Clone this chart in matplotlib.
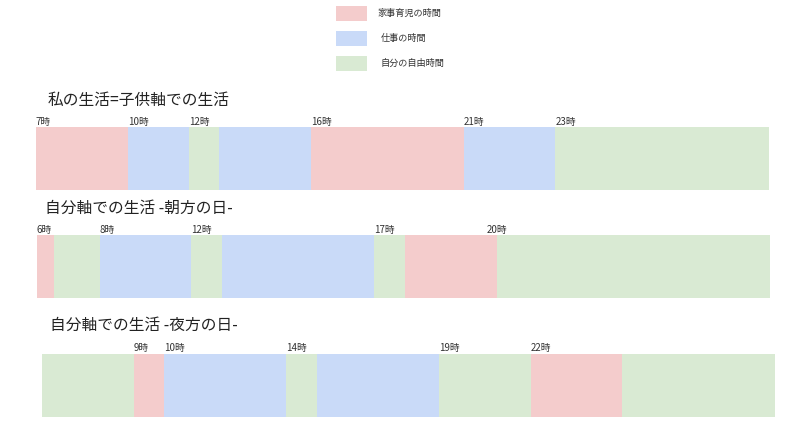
import matplotlib
matplotlib.use("Agg")
from matplotlib import pyplot as plt
from matplotlib.patches import Rectangle
import numpy as np

plt.rcParams['font.family'] = ['Noto Sans CJK JP', 'DejaVu Sans']

# 分類と色
categories = ["家事育児の時間", "仕事の時間", "自分の自由時間"]
colors = {"家事育児の時間": "#f4cccc", "仕事の時間": "#c9daf8", "自分の自由時間": "#d9ead3"}

titles = ["私の生活=子供軸での生活", "自分軸での生活 -朝方の日-", "自分軸での生活 -夜方の日-"]

# 各区間の種類 (0:家事育児 1:仕事 2:自由)
seg_kind_1 = [0, 1, 2, 1, 0, 1, 2]
seg_len_1 = [3, 2, 1, 3, 5, 3, 7]
seg_kind_2 = [0, 2, 1, 2, 1, 2, 0, 2]
seg_len_2 = [0.55, 1.5, 3, 1, 5, 1, 3, 8.95]
seg_kind_3 = [2, 0, 1, 2, 1, 2, 0, 2]
seg_len_3 = [3, 1, 4, 1, 4, 3, 3, 5]

# 時刻ラベル (表示文字, 区切り番号)
labels_1 = [("7時", 0), ("10時", 1), ("12時", 2), ("16時", 4), ("21時", 5), ("23時", 6)]
labels_2 = [("6時", 0), ("8時", 2), ("12時", 3), ("17時", 5), ("20時", 7)]
labels_3 = [("9時", 1), ("10時", 2), ("14時", 3), ("19時", 5), ("22時", 6)]

rows = [
    (seg_kind_1, seg_len_1, labels_1, 0.0),
    (seg_kind_2, seg_len_2, labels_2, 0.03),
    (seg_kind_3, seg_len_3, labels_3, 0.2),
]

W, H = 800, 433
fig = plt.figure(figsize=(8, 4.33), dpi=100)
ax = fig.add_axes([0, 0, 1, 1])
unit = 30.54
x0 = 36
ax.set_xlim(-x0 / unit, (W - x0) / unit)
ax.set_ylim(H, 0)
ax.axis("off")

bar_y = [158.5, 266.5, 385.5]
bar_h = 63
title_pos = [(48, 100), (45, 208), (50, 325)]

for (kinds, lens, labs, start), yc, title, (tx, ty) in zip(rows, bar_y, titles, title_pos):
    lefts = start + np.concatenate([[0], np.cumsum(lens)[:-1]])
    ax.barh(yc, lens, left=lefts, height=bar_h,
            color=[colors[categories[k]] for k in kinds], linewidth=0)
    edges = start + np.concatenate([[0], np.cumsum(lens)])
    top = yc - bar_h / 2
    for text, idx in labs:
        ha = "center" if idx == len(lens) - 1 and idx > 6 else "left"
        ax.text(edges[idx], top - 0.5, text, ha=ha, va="bottom",
                fontsize=7, color="#333333")
    fig.text(tx / W, 1 - ty / H, title, ha="left", va="center",
             fontsize=11.3, color="#222222")

# 凡例
leg_y = [13, 38, 63]
leg_tx = [378, 381, 381]
for c, ly, lx in zip(categories, leg_y, leg_tx):
    fig.patches.append(Rectangle((336 / W, 1 - (ly + 7.5) / H), 31 / W, 15 / H,
                                 transform=fig.transFigure, facecolor=colors[c],
                                 edgecolor="none"))
    fig.text(lx / W, 1 - ly / H, c, ha="left", va="center",
             fontsize=6.6, color="#333333")

fig.savefig("out.png", dpi=100, facecolor="white")
